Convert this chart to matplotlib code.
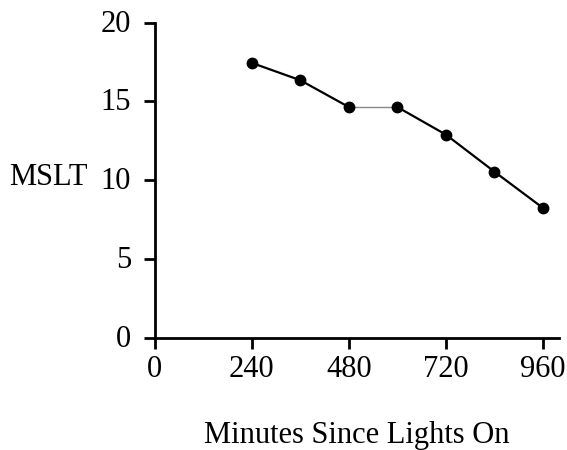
import matplotlib
matplotlib.use("Agg")
import matplotlib.pyplot as plt
import matplotlib.transforms as mtransforms

minutes = [240, 360, 480, 600, 720, 840, 960]
mslt = [17.45, 16.35, 14.65, 14.65, 12.9, 10.55, 8.25]
x_ticks = [0, 240, 480, 720, 960]
y_ticks = [0, 5, 10, 15, 20]

plt.rcParams['font.family'] = ['Liberation Serif', 'DejaVu Serif']

fig = plt.figure(figsize=(5.67, 4.5), dpi=100)
ax = fig.add_axes([0.2728, 0.249, 0.7132, 0.7006])

for i in range(len(minutes) - 1):
    flat = mslt[i] == mslt[i + 1]
    ax.plot(minutes[i:i + 2], mslt[i:i + 2],
            color='#888888' if flat else 'black',
            lw=1.0 if flat else 1.6, zorder=2)
ax.plot(minutes, mslt, 'o', color='black', ms=7.5, zorder=3)

ax.set_xlim(0, 1000)
ax.set_ylim(0, 20)
ax.set_xticks(x_ticks)
ax.set_yticks(y_ticks)
ax.spines['top'].set_visible(False)
ax.spines['right'].set_visible(False)
for s in ('left', 'bottom'):
    ax.spines[s].set_linewidth(2)
ax.tick_params(direction='out', length=8, width=2, labelsize=22)
ax.tick_params(axis='x', pad=4)
ax.tick_params(axis='y', pad=9)

up = mtransforms.ScaledTranslation(0, 2 / 100, fig.dpi_scale_trans)
for lab in ax.get_yticklabels():
    lab.set_transform(lab.get_transform() + up)

ax.set_xlabel('Minutes Since Lights On', fontsize=22, labelpad=27)
ylab = ax.set_ylabel('MSLT', fontsize=22, rotation=0, ha='right', va='center')
ax.yaxis.set_label_coords(-0.165, 0.5 + 3 / 315.3)

fig.savefig('out.png', dpi=100)
